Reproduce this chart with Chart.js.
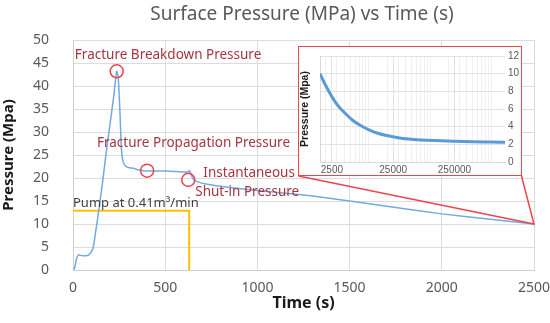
<!DOCTYPE html>
<html>
<head>
<meta charset="utf-8">
<script src="https://cdn.jsdelivr.net/npm/chart.js@4"></script>
<style>
  html, body { margin: 0; padding: 0; background: #fff; }
  #wrap { position: relative; width: 550px; height: 323px; }
  #inset {
    position: absolute; left: 298px; top: 46px; width: 222px; height: 128px;
    border: 1.5px solid #e8474f; background: #fff;
  }
</style>
</head>
<body>
<div id="wrap">
  <canvas id="main" width="550" height="323"></canvas>
  <div id="inset"><canvas id="zoom" width="222" height="128"></canvas></div>
</div>
<script>
// surface pressure during the treatment (s, MPa)
const times = [0, 8, 20, 30, 50, 70, 85, 100, 110, 120, 140, 160, 180, 200, 220, 237, 245, 255, 263, 272, 285, 300, 330, 350, 380, 420, 500, 560, 620, 632, 642, 655, 680, 720, 800, 900, 1000, 1100, 1200, 1300, 1500, 1750, 2000, 2250, 2500];
const pressure = [0, 0.3, 2.6, 3.3, 3.1, 3.1, 3.3, 4.0, 5.0, 7.5, 13, 19, 25.5, 31.5, 37.5, 43.2, 42, 34, 26, 23.5, 22.6, 22.3, 22.1, 21.8, 21.6, 21.5, 21.5, 21.4, 21.3, 21.6, 20.6, 19.6, 19.1, 18.7, 18.2, 17.7, 17.3, 16.9, 16.5, 16.1, 15.0, 13.6, 12.2, 11.1, 10.0];

// pump schedule
const pumpTimes = [0, 630, 630];
const pumpRate = [12.9, 12.9, 0];

// long-time falloff shown in the inset (s, MPa)
const insetTimes = [1600, 2000, 2900, 4000, 5500, 7500, 10300, 14000, 19700, 30000, 45000, 70000, 120000, 250000, 500000, 1000000, 1670000];
const insetPressure = [10.0, 8.6, 6.7, 5.6, 4.7, 4.1, 3.6, 3.25, 3.0, 2.75, 2.6, 2.5, 2.42, 2.35, 2.3, 2.26, 2.23];
const insetLabels = [2500, 25000, 250000];

const chartTitle = 'Surface Pressure (MPa) vs Time (s)';
const redText = '#a5363f';
const redLine = '#e8474f';
const grey = '#595959';

// annotation marks, in data coordinates
const markers = [
  { x: 237, y: 43.2 },
  { x: 402, y: 21.6 },
  { x: 625, y: 19.6 }
];
const notes = [
  { text: 'Fracture Breakdown Pressure', x: 10, y: 46.7, color: redText, size: 13.5 },
  { text: 'Fracture Propagation Pressure', x: 130, y: 27.6, color: redText, size: 13.5 },
  { text: 'Instantaneous', x: 707, y: 21.1, color: redText, size: 13.5 },
  { text: 'Shut-in Pressure', x: 663, y: 17.0, color: redText, size: 13.5 },
  { text: 'Pump at 0.41m³/min', x: 0, y: 14.6, color: '#404040', size: 13 }
];

const notesPlugin = {
  id: 'notes',
  afterDatasetsDraw(chart) {
    const { ctx, scales: { x, y } } = chart;
    ctx.save();
    // title
    ctx.fillStyle = grey;
    ctx.font = '19px "Noto Sans"';
    ctx.textAlign = 'center';
    ctx.textBaseline = 'middle';
    ctx.fillText(chartTitle, 302, 15);

    // lines to the inset box
    const ex = x.getPixelForValue(times[times.length - 1]);
    const ey = y.getPixelForValue(pressure[pressure.length - 1]);
    ctx.strokeStyle = redLine;
    ctx.lineWidth = 1.5;
    ctx.beginPath();
    ctx.moveTo(298.5, 176);
    ctx.lineTo(ex, ey);
    ctx.lineTo(521.5, 176);
    ctx.stroke();

    markers.forEach(m => {
      ctx.beginPath();
      ctx.arc(x.getPixelForValue(m.x), y.getPixelForValue(m.y), 6.5, 0, Math.PI * 2);
      ctx.stroke();
    });

    ctx.textAlign = 'left';
    notes.forEach(n => {
      ctx.fillStyle = n.color;
      ctx.font = n.size + 'px "Noto Sans"';
      ctx.fillText(n.text, x.getPixelForValue(n.x), y.getPixelForValue(n.y));
    });
    ctx.restore();
  }
};

new Chart(document.getElementById('main'), {
  type: 'line',
  data: {
    datasets: [
      {
        data: times.map((t, i) => ({ x: t, y: pressure[i] })),
        borderColor: '#76a9dd',
        borderWidth: 1.5,
        pointRadius: 0,
        tension: 0.2
      },
      {
        data: pumpTimes.map((t, i) => ({ x: t, y: pumpRate[i] })),
        borderColor: '#ffc000',
        borderWidth: 2,
        pointRadius: 0,
        tension: 0
      }
    ]
  },
  options: {
    responsive: false,
    animation: false,
    layout: { padding: { top: 40, right: 0 } },
    plugins: {
      legend: { display: false },
      tooltip: { enabled: false },
      title: { display: false }
    },
    scales: {
      x: {
        type: 'linear',
        min: 0, max: 2500,
        afterFit: s => { s.height = 53; s.paddingRight = 16; },
        grid: { color: '#dcdcdc', drawTicks: false },
        border: { color: '#d0d0d0' },
        ticks: {
          stepSize: 500, padding: 10, color: grey,
          font: { family: 'Noto Sans', size: 14 },
          callback: v => String(v)
        },
        title: {
          display: true, text: 'Time (s)', color: '#1a1a1a',
          font: { family: 'Noto Sans', size: 16, weight: 'bold' },
          padding: { top: 0, bottom: 10 }
        }
      },
      y: {
        min: 0, max: 50,
        afterFit: s => { s.width = 73; },
        grid: { color: '#dcdcdc', drawTicks: false },
        border: { color: '#d0d0d0' },
        ticks: { stepSize: 5, padding: 24, color: grey, font: { family: 'Noto Sans', size: 14 } },
        title: {
          display: true, text: 'Pressure (Mpa)', color: '#1a1a1a',
          font: { family: 'Noto Sans', size: 15, weight: 'bold' },
          padding: { top: 0, bottom: 0 }
        }
      }
    }
  },
  plugins: [notesPlugin]
});

// minor log grid for the inset
const logGrid = [];
for (let p = 1000; p <= 1000000; p *= 10) {
  for (let k = 1; k <= 9; k++) {
    const v = k * p;
    if (v >= 1600 && v <= 1670000) logGrid.push(v);
  }
}
insetLabels.forEach(v => logGrid.push(v));
logGrid.sort((a, b) => a - b);

new Chart(document.getElementById('zoom'), {
  type: 'line',
  data: {
    datasets: [{
      data: insetTimes.map((t, i) => ({ x: t, y: insetPressure[i] })),
      borderColor: '#5b9bd5',
      borderWidth: 3,
      pointRadius: 0,
      cubicInterpolationMode: 'monotone'
    }]
  },
  options: {
    responsive: false,
    animation: false,
    layout: { padding: { top: 6 } },
    plugins: { legend: { display: false }, tooltip: { enabled: false } },
    scales: {
      x: {
        type: 'logarithmic',
        min: 1600, max: 1670000,
        afterBuildTicks: s => { s.ticks = logGrid.map(v => ({ value: v })); },
        afterFit: s => { s.height = 13; },
        grid: {
          drawTicks: false,
          color: c => insetLabels.includes(c.tick.value) ? '#e2e2e2' : '#f0f0f0'
        },
        border: { color: '#d9d9d9' },
        ticks: {
          autoSkip: false, maxRotation: 0, padding: 2, color: grey,
          font: { family: 'Liberation Sans', size: 10 },
          callback: v => insetLabels.includes(v) ? String(v) : ''
        }
      },
      y: {
        position: 'right',
        min: 0, max: 12,
        afterFit: s => { s.width = 16; },
        grid: {
          drawTicks: false,
          color: c => c.tick.value % 2 === 0 ? '#e2e2e2' : '#f2f2f2'
        },
        border: { display: false },
        ticks: {
          stepSize: 1, padding: 3, color: grey,
          font: { family: 'Liberation Sans', size: 10 },
          callback: v => v % 2 === 0 ? v : ''
        }
      },
      y2: {
        position: 'left',
        min: 0, max: 12,
        afterFit: s => { s.width = 21; },
        grid: { display: false, drawTicks: false },
        border: { color: '#d9d9d9' },
        ticks: { display: false },
        title: {
          display: true, text: 'Pressure (Mpa)', color: '#1a1a1a',
          font: { family: 'Liberation Sans', size: 10.5, weight: 'bold' },
          padding: { top: 0, bottom: 0 }
        }
      }
    }
  }
});
</script>
</body>
</html>
